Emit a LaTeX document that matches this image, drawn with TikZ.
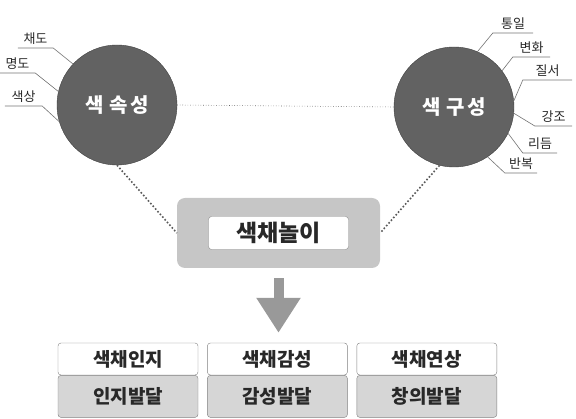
\documentclass[tikz,border=0pt]{standalone}
\usepackage{fontspec}
\setmainfont{Noto Sans CJK KR}
\usetikzlibrary{positioning, arrows.meta}
\definecolor{disc}{RGB}{98, 98, 98}
\definecolor{panel}{RGB}{198, 198, 198}
\definecolor{lower}{RGB}{214, 214, 214}
\definecolor{ink}{RGB}{40, 40, 40}

\begin{document}
\begin{tikzpicture}[
        x=1pt, y=-1pt,
        node distance = 0pt and 9pt,
        disc/.style = {circle, draw=black!75, fill=disc, minimum size=120pt, text=white, font=\fontsize{20}{24}\selectfont\bfseries},
        tag/.style = {anchor=south, inner xsep=0pt, inner ysep=3pt, text=ink, font=\fontsize{13}{15}\selectfont},
        leader/.style = {draw=black!55, line width=0.6pt},
        dots/.style = {draw=black!65, dotted, line width=1.6pt},
        thin dots/.style = {draw=black!60, dotted, line width=0.6pt},
        top/.style = {draw=black!50, fill=white, rounded corners=3pt, minimum width=140pt, minimum height=32pt, text=ink, font=\fontsize{19}{22}\selectfont\bfseries},
        bottom/.style = {top, fill=lower, minimum height=42pt},
        flow/.style = {draw=black!40, line width=10pt, -{Triangle[length=35pt, width=42pt]}, shorten <=10pt, shorten >=10pt},
    ]
        \useasboundingbox (0,0) rectangle (576,419);
        % the two circles
        \node[disc] (attr) at (117,105) {색\hspace{6pt}속\hspace{2pt}성};
        \node[disc] (form) at (454,107) {색\hspace{6pt}구\hspace{2pt}성};
        \draw[thin dots] (attr.east) -- (form.west);
        % labels round the circles
        \node[tag, minimum width=35pt] (chroma) at (35.5,48) {채도};
        \node[tag, minimum width=35pt] (value) at (17.5,73) {명도};
        \node[tag, minimum width=37pt] (hue) at (23.5,106) {색상};
        \draw[leader] (attr.137) -- (chroma.south east) -- (chroma.south west);
        \draw[leader] (attr.167) -- (value.south east) -- (value.south west);
        \draw[leader] (attr.196) -- (hue.south east) -- (hue.south west);
        \node[tag, minimum width=40pt] (unity) at (513,33) {통일};
        \node[tag, minimum width=37pt] (change) at (531.5,57) {변화};
        \node[tag, minimum width=49pt] (order) at (547.5,80) {질서};
        \node[tag, minimum width=37pt] (accent) at (553.5,126) {강조};
        \node[tag, minimum width=34pt] (rhythm) at (540,153) {리듬};
        \node[tag, minimum width=32pt] (repeat) at (521,173) {반복};
        \draw[leader] (form.67) -- (unity.south west) -- (unity.south east);
        \draw[leader] (form.37) -- (change.south west) -- (change.south east);
        \draw[leader] (form.6) -- (order.south west) -- (order.south east);
        \draw[leader] (form.-6) -- (accent.south west) -- (accent.south east);
        \draw[leader] (form.-26) -- (rhythm.south west) -- (rhythm.south east);
        \draw[leader] (form.-56) -- (repeat.south west) -- (repeat.south east);
        % colour play
        \node[fill=panel, rounded corners=8pt, minimum width=203pt, minimum height=70pt] (play) at (278.5,233) {};
        \node[draw=black!45, fill=white, rounded corners=3pt, minimum width=140pt, minimum height=33pt, text=ink, font=\fontsize{23}{26}\selectfont\bfseries] (playname) at (play.center) {색채놀이};
        \draw[dots] (attr.south) -- (play.west);
        \draw[dots] (form.256) -- (play.east);
        % outcomes
        \node[top] (perc) at (128,359) {색채인지};
        \node[top, right=of perc] (feel) {색채감성};
        \node[top, right=of feel] (assoc) {색채연상};
        \node[bottom, below=of perc] (percdev) {인지발달};
        \node[bottom, below=of feel] (feeldev) {감성발달};
        \node[bottom, below=of assoc] (assocdev) {창의발달};
        \draw[flow] (play.south) -- (play.south |- feel.north);
    \end{tikzpicture}
\end{document}
